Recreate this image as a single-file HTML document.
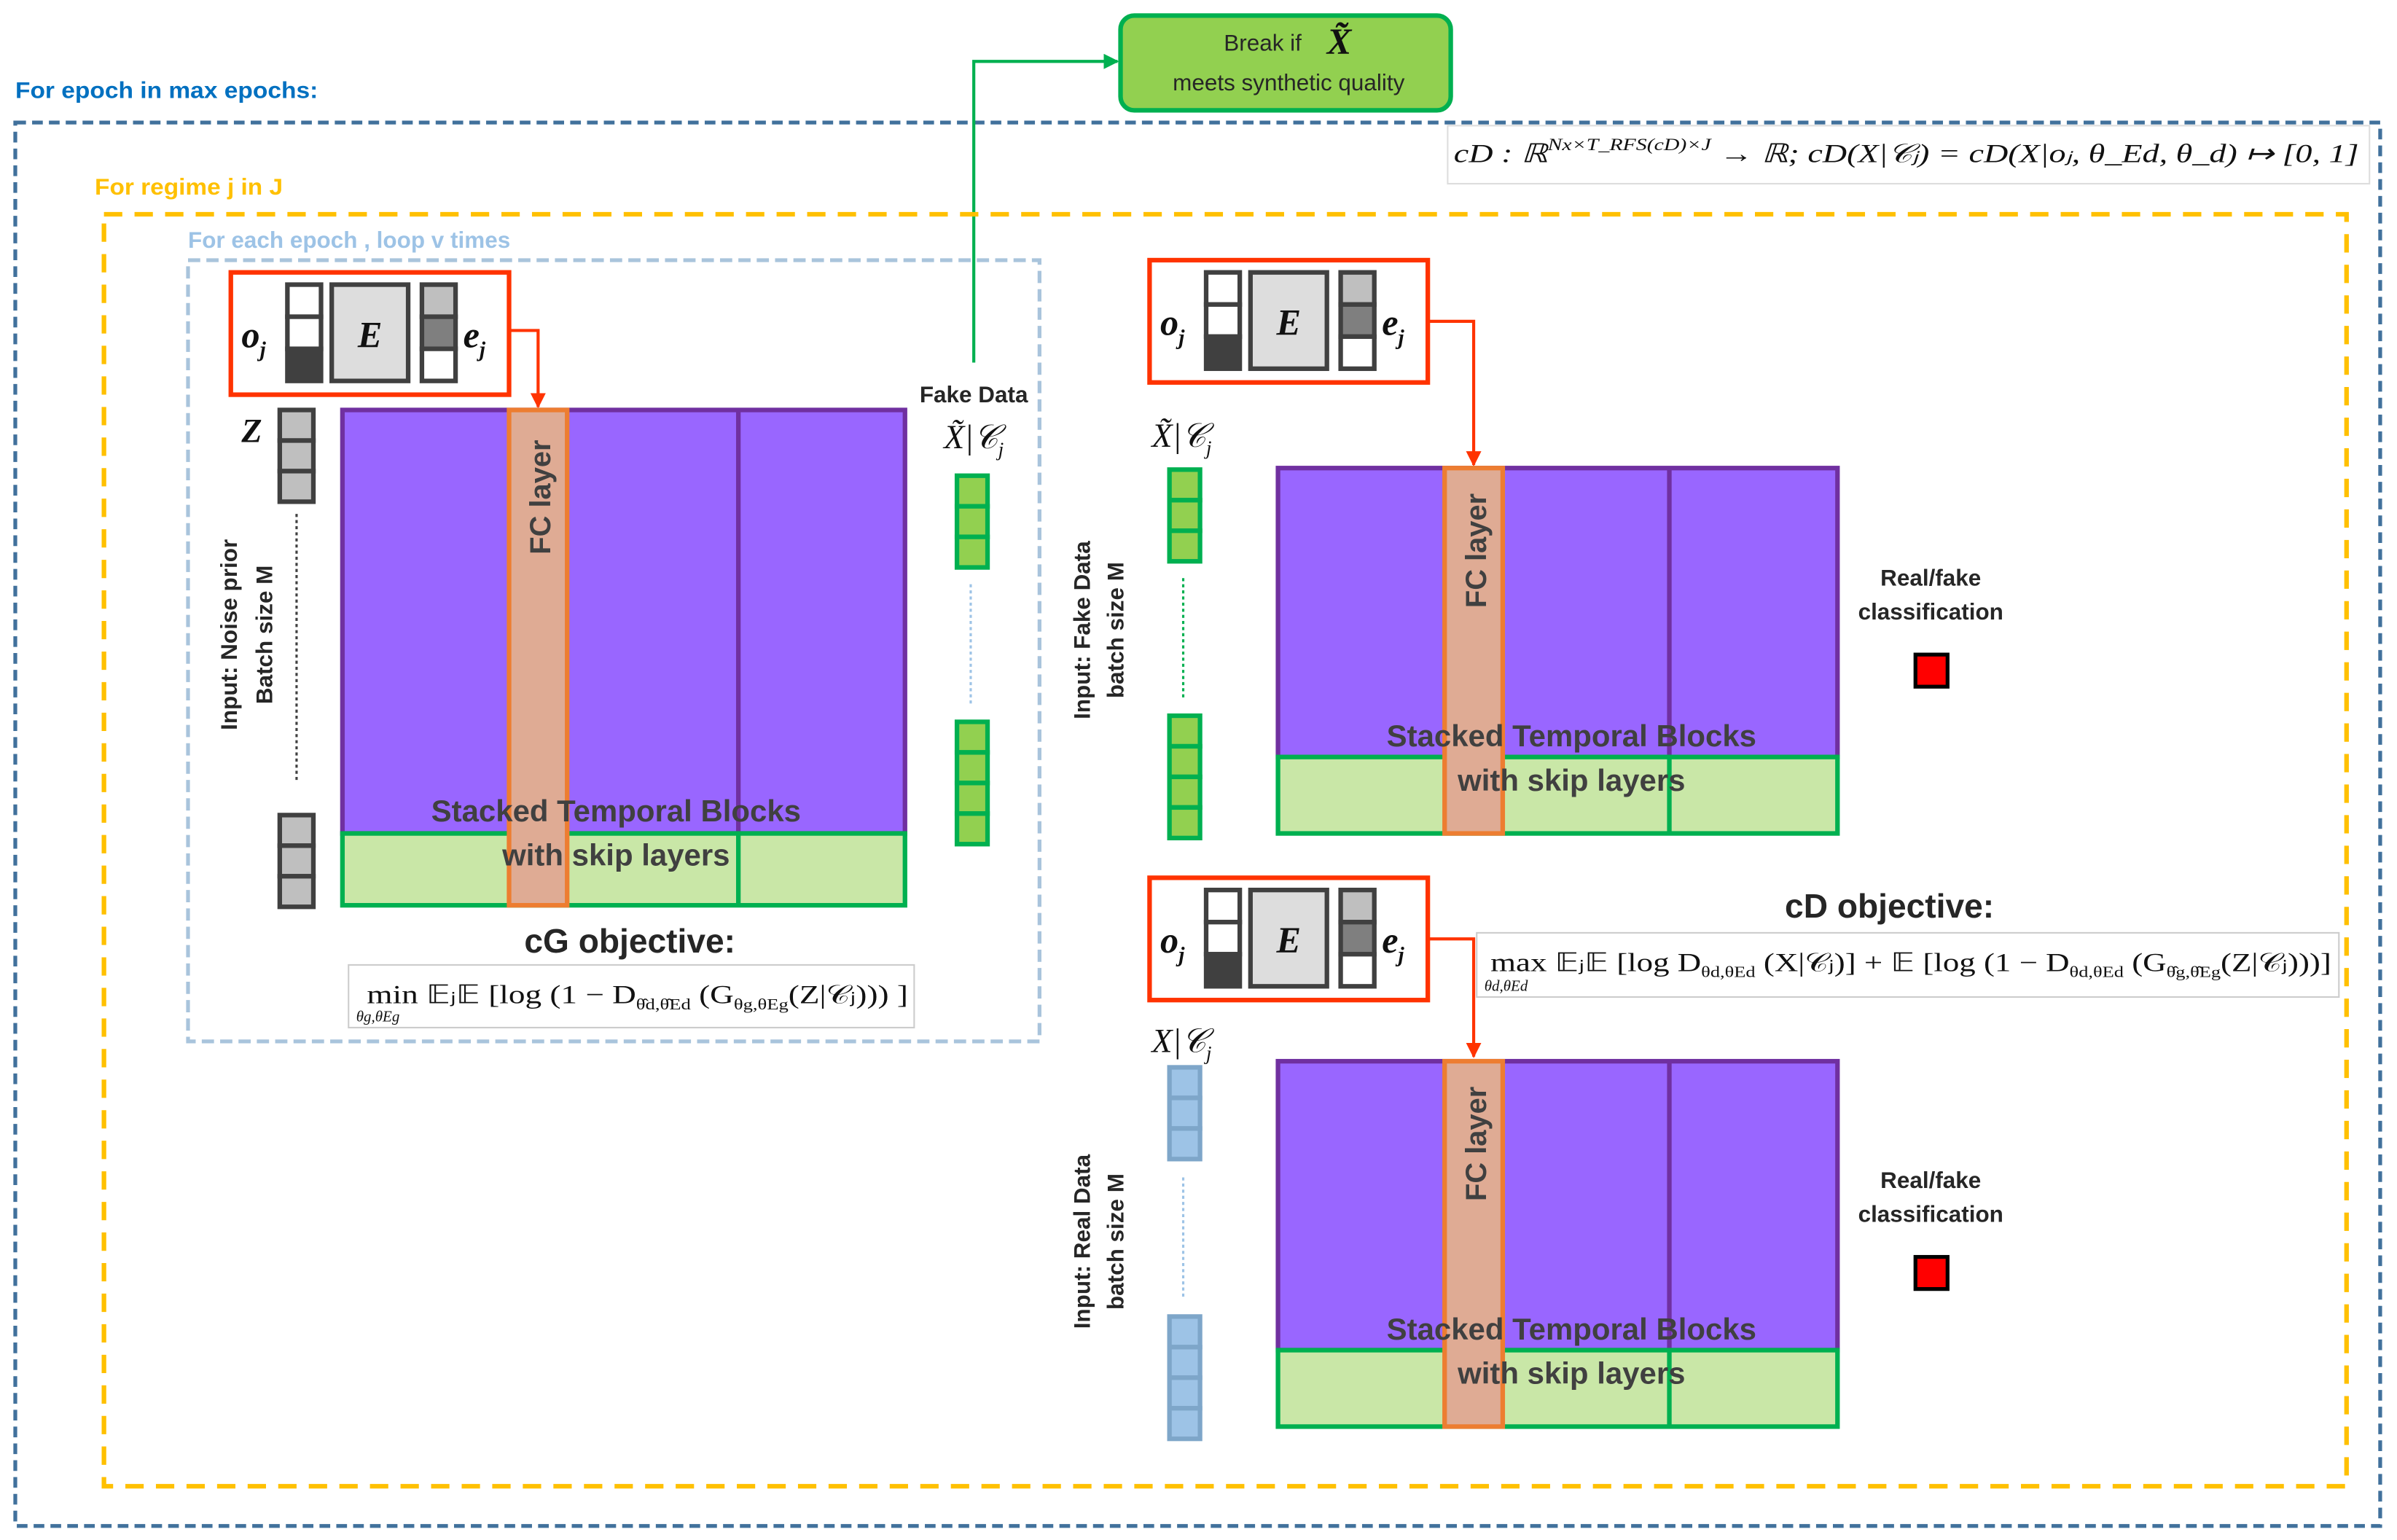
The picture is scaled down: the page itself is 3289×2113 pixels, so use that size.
<!DOCTYPE html>
<html><head><meta charset="utf-8"><style>
html,body{margin:0;padding:0;background:#fff;}
svg{display:block;}
text{font-family:"Liberation Sans",sans-serif;}
.ser{font-family:"Liberation Serif",serif;}
</style></head><body>
<svg width="3289" height="2113" viewBox="0 0 1568 1007" xmlns="http://www.w3.org/2000/svg">
<defs>
<marker id="ag" markerWidth="10" markerHeight="10" refX="9" refY="5" orient="auto" markerUnits="userSpaceOnUse"><path d="M0,0 L10,5 L0,10 z" fill="#00b050"/></marker>
<marker id="ar" markerWidth="10" markerHeight="10" refX="9" refY="5" orient="auto" markerUnits="userSpaceOnUse"><path d="M0,0 L10,5 L0,10 z" fill="#ff3300"/></marker>
</defs>
<rect width="1568" height="1007" fill="#fff"/>

<!-- outer -->
<text x="10" y="64" font-size="15" font-weight="bold" fill="#0070c0" textLength="198" lengthAdjust="spacingAndGlyphs">For epoch in max epochs:</text>
<rect x="10" y="80" width="1547" height="918" fill="none" stroke="#41719c" stroke-width="2.5" stroke-dasharray="7 4"/>

<!-- break box -->
<rect x="733" y="10" width="216" height="62" rx="9" fill="#92d050" stroke="#00b050" stroke-width="3"/>
<text x="826" y="33" font-size="15" text-anchor="middle" fill="#262626">Break if</text>
<text x="876" y="35" font-size="24" font-weight="bold" font-style="italic" class="ser" text-anchor="middle" fill="#111">X̃</text>
<text x="843" y="59" font-size="15" text-anchor="middle" fill="#262626">meets synthetic quality</text>
<polyline points="637,237 637,40 731,40" fill="none" stroke="#00b050" stroke-width="2" marker-end="url(#ag)"/>

<!-- top formula -->
<rect x="947" y="82" width="603" height="38" fill="#fff" stroke="#ddd" stroke-width="1"/>
<text x="951" y="106" font-size="17" class="ser" font-style="italic" fill="#111" textLength="592" lengthAdjust="spacingAndGlyphs">cD : ℝ<tspan font-size="11" dy="-8">Nx×T_RFS(cD)×J</tspan><tspan dy="8"> → ℝ; cD(X|𝒞ⱼ) = cD(X|oⱼ, θ_Ed, θ_d) ↦ [0, 1]</tspan></text>

<!-- regime -->
<text x="62" y="127" font-size="15" font-weight="bold" fill="#ffc000" textLength="123" lengthAdjust="spacingAndGlyphs">For regime j in J</text>
<rect x="68" y="140" width="1467" height="832" fill="none" stroke="#ffc000" stroke-width="3" stroke-dasharray="12 8"/>

<!-- inner loop -->
<text x="123" y="162" font-size="15" font-weight="bold" fill="#9dc3e6">For each epoch , loop v times</text>
<rect x="123" y="170" width="557" height="511" fill="none" stroke="#a9c4dc" stroke-width="2.5" stroke-dasharray="8 4"/>

<!-- ENCODER box generator -->
<g id="enc1">
<rect x="151" y="178" width="182" height="80" fill="#fff" stroke="#ff3300" stroke-width="3"/>
<text x="158" y="227" font-size="24" font-weight="bold" font-style="italic" class="ser" fill="#111">o<tspan font-size="14" dy="6">j</tspan></text>
<rect x="188" y="186" width="22" height="21" fill="#fff" stroke="#404040" stroke-width="3"/>
<rect x="188" y="207" width="22" height="21" fill="#fff" stroke="#404040" stroke-width="3"/>
<rect x="188" y="228" width="22" height="21" fill="#404040" stroke="#404040" stroke-width="3"/>
<rect x="217" y="186" width="50" height="63" fill="#dddddd" stroke="#404040" stroke-width="3"/>
<text x="242" y="227" font-size="24" font-weight="bold" font-style="italic" class="ser" text-anchor="middle" fill="#111">E</text>
<rect x="276" y="186" width="22" height="21" fill="#bfbfbf" stroke="#404040" stroke-width="3"/>
<rect x="276" y="207" width="22" height="21" fill="#7f7f7f" stroke="#404040" stroke-width="3"/>
<rect x="276" y="228" width="22" height="21" fill="#fff" stroke="#404040" stroke-width="3"/>
<text x="303" y="227" font-size="24" font-weight="bold" font-style="italic" class="ser" fill="#111">e<tspan font-size="14" dy="6">j</tspan></text>
</g>
<polyline points="333,216 352,216 352,266" fill="none" stroke="#ff3300" stroke-width="2" marker-end="url(#ar)"/>

<!-- Z -->
<text x="158" y="289" font-size="22" font-weight="bold" font-style="italic" class="ser" fill="#111">Z</text>
<g fill="#bfbfbf" stroke="#404040" stroke-width="3">
<rect x="183" y="268" width="22" height="20"/><rect x="183" y="288" width="22" height="20"/><rect x="183" y="308" width="22" height="20"/>
<rect x="183" y="533" width="22" height="20"/><rect x="183" y="553" width="22" height="20"/><rect x="183" y="573" width="22" height="20"/>
</g>
<line x1="194" y1="336" x2="194" y2="512" stroke="#404040" stroke-width="1.5" stroke-dasharray="2 2"/>
<text transform="translate(155,415) rotate(-90)" font-size="15" font-weight="bold" text-anchor="middle" fill="#262626">Input: Noise prior</text>
<text transform="translate(178,415) rotate(-90)" font-size="15" font-weight="bold" text-anchor="middle" fill="#262626">Batch size M</text>

<!-- Generator block -->
<rect x="224" y="268" width="368" height="277" fill="#9966ff" stroke="#7030a0" stroke-width="3"/>
<line x1="483" y1="268" x2="483" y2="545" stroke="#7030a0" stroke-width="3"/>
<rect x="224" y="545" width="368" height="47" fill="#c9e7a7" stroke="#00b050" stroke-width="3"/>
<line x1="483" y1="545" x2="483" y2="592" stroke="#00b050" stroke-width="3"/>
<rect x="333" y="268" width="38" height="324" fill="#dfab94" stroke="#ed7d31" stroke-width="3"/>
<text transform="translate(360,325) rotate(-90)" font-size="19" font-weight="bold" text-anchor="middle" fill="#404040">FC layer</text>
<text x="403" y="537" font-size="20" font-weight="bold" text-anchor="middle" fill="#404040">Stacked Temporal Blocks</text>
<text x="403" y="566" font-size="20" font-weight="bold" text-anchor="middle" fill="#404040">with skip layers</text>

<!-- fake data -->
<text x="637" y="263" font-size="15" font-weight="bold" text-anchor="middle" fill="#262626">Fake Data</text>
<text x="637" y="293" font-size="22" font-style="italic" class="ser" text-anchor="middle" fill="#111">X̃|𝒞<tspan font-size="13" dy="5">j</tspan></text>
<g fill="#92d050" stroke="#00b050" stroke-width="3">
<rect x="626" y="311" width="20" height="20"/><rect x="626" y="331" width="20" height="20"/><rect x="626" y="351" width="20" height="20"/>
<rect x="626" y="472" width="20" height="20"/><rect x="626" y="492" width="20" height="20"/><rect x="626" y="512" width="20" height="20"/><rect x="626" y="532" width="20" height="20"/>
</g>
<line x1="635" y1="382" x2="635" y2="460" stroke="#9dc3e6" stroke-width="1.5" stroke-dasharray="2 2"/>

<!-- cG objective -->
<text x="412" y="623" font-size="22" font-weight="bold" text-anchor="middle" fill="#262626">cG objective:</text>
<rect x="228" y="631" width="370" height="41" fill="#fff" stroke="#ccc" stroke-width="1"/>
<text x="240" y="656" font-size="17" class="ser" fill="#111" textLength="354" lengthAdjust="spacingAndGlyphs">min 𝔼ⱼ𝔼 [log (1 − D<tspan font-size="10" dy="4">θ̂d,θ̂Ed</tspan><tspan dy="-4"> (G</tspan><tspan font-size="10" dy="4">θg,θEg</tspan><tspan dy="-4">(Z|𝒞ⱼ))) ]</tspan></text>
<text x="233" y="668" font-size="10" class="ser" font-style="italic" fill="#111">θg,θEg</text>

<!-- Disc top -->
<use href="#enc1" transform="translate(601,-8)"/>
<polyline points="935,210 964,210 964,304" fill="none" stroke="#ff3300" stroke-width="2" marker-end="url(#ar)"/>
<text x="773" y="292" font-size="22" font-style="italic" class="ser" text-anchor="middle" fill="#111">X̃|𝒞<tspan font-size="13" dy="5">j</tspan></text>
<g fill="#92d050" stroke="#00b050" stroke-width="3">
<rect x="765" y="307" width="20" height="20"/><rect x="765" y="327" width="20" height="20"/><rect x="765" y="347" width="20" height="20"/>
<rect x="765" y="468" width="20" height="20"/><rect x="765" y="488" width="20" height="20"/><rect x="765" y="508" width="20" height="20"/><rect x="765" y="528" width="20" height="20"/>
</g>
<line x1="774" y1="378" x2="774" y2="458" stroke="#00b050" stroke-width="1.5" stroke-dasharray="2 2"/>
<text transform="translate(713,412) rotate(-90)" font-size="15" font-weight="bold" text-anchor="middle" fill="#262626">Input: Fake Data</text>
<text transform="translate(735,412) rotate(-90)" font-size="15" font-weight="bold" text-anchor="middle" fill="#262626">batch size M</text>
<rect x="836" y="306" width="366" height="189" fill="#9966ff" stroke="#7030a0" stroke-width="3"/>
<line x1="1092" y1="306" x2="1092" y2="495" stroke="#7030a0" stroke-width="3"/>
<rect x="836" y="495" width="366" height="50" fill="#c9e7a7" stroke="#00b050" stroke-width="3"/>
<line x1="1092" y1="495" x2="1092" y2="545" stroke="#00b050" stroke-width="3"/>
<rect x="945" y="306" width="38" height="239" fill="#dfab94" stroke="#ed7d31" stroke-width="3"/>
<text transform="translate(972,360) rotate(-90)" font-size="19" font-weight="bold" text-anchor="middle" fill="#404040">FC layer</text>
<text x="1028" y="488" font-size="20" font-weight="bold" text-anchor="middle" fill="#404040">Stacked Temporal Blocks</text>
<text x="1028" y="517" font-size="20" font-weight="bold" text-anchor="middle" fill="#404040">with skip layers</text>
<text x="1263" y="383" font-size="15" font-weight="bold" text-anchor="middle" fill="#262626">Real/fake</text>
<text x="1263" y="405" font-size="15" font-weight="bold" text-anchor="middle" fill="#262626">classification</text>
<rect x="1253" y="428" width="21" height="21" fill="#ff0000" stroke="#000" stroke-width="2.5"/>

<!-- cD objective -->
<text x="1236" y="600" font-size="22" font-weight="bold" text-anchor="middle" fill="#262626">cD objective:</text>
<rect x="966" y="610" width="564" height="42" fill="#fff" stroke="#ccc" stroke-width="1"/>
<text x="975" y="635" font-size="17" class="ser" fill="#111" textLength="550" lengthAdjust="spacingAndGlyphs">max 𝔼ⱼ𝔼 [log D<tspan font-size="10" dy="4">θd,θEd</tspan><tspan dy="-4"> (X|𝒞ⱼ)] + 𝔼 [log (1 − D</tspan><tspan font-size="10" dy="4">θd,θEd</tspan><tspan dy="-4"> (G</tspan><tspan font-size="10" dy="4">θ̂g,θ̂Eg</tspan><tspan dy="-4">(Z|𝒞ⱼ)))]</tspan></text>
<text x="971" y="648" font-size="10" class="ser" font-style="italic" fill="#111">θd,θEd</text>

<!-- Disc bottom -->
<use href="#enc1" transform="translate(601,396)"/>
<polyline points="935,614 964,614 964,691" fill="none" stroke="#ff3300" stroke-width="2" marker-end="url(#ar)"/>
<text x="773" y="688" font-size="22" font-style="italic" class="ser" text-anchor="middle" fill="#111">X|𝒞<tspan font-size="13" dy="5">j</tspan></text>
<g fill="#9dc3e6" stroke="#7ea6c9" stroke-width="3">
<rect x="765" y="698" width="20" height="20"/><rect x="765" y="718" width="20" height="20"/><rect x="765" y="738" width="20" height="20"/>
<rect x="765" y="861" width="20" height="20"/><rect x="765" y="881" width="20" height="20"/><rect x="765" y="901" width="20" height="20"/><rect x="765" y="921" width="20" height="20"/>
</g>
<line x1="774" y1="770" x2="774" y2="850" stroke="#9dc3e6" stroke-width="1.5" stroke-dasharray="2 2"/>
<text transform="translate(713,812) rotate(-90)" font-size="15" font-weight="bold" text-anchor="middle" fill="#262626">Input: Real Data</text>
<text transform="translate(735,812) rotate(-90)" font-size="15" font-weight="bold" text-anchor="middle" fill="#262626">batch size M</text>
<rect x="836" y="694" width="366" height="189" fill="#9966ff" stroke="#7030a0" stroke-width="3"/>
<line x1="1092" y1="694" x2="1092" y2="883" stroke="#7030a0" stroke-width="3"/>
<rect x="836" y="883" width="366" height="50" fill="#c9e7a7" stroke="#00b050" stroke-width="3"/>
<line x1="1092" y1="883" x2="1092" y2="933" stroke="#00b050" stroke-width="3"/>
<rect x="945" y="694" width="38" height="239" fill="#dfab94" stroke="#ed7d31" stroke-width="3"/>
<text transform="translate(972,748) rotate(-90)" font-size="19" font-weight="bold" text-anchor="middle" fill="#404040">FC layer</text>
<text x="1028" y="876" font-size="20" font-weight="bold" text-anchor="middle" fill="#404040">Stacked Temporal Blocks</text>
<text x="1028" y="905" font-size="20" font-weight="bold" text-anchor="middle" fill="#404040">with skip layers</text>
<text x="1263" y="777" font-size="15" font-weight="bold" text-anchor="middle" fill="#262626">Real/fake</text>
<text x="1263" y="799" font-size="15" font-weight="bold" text-anchor="middle" fill="#262626">classification</text>
<rect x="1253" y="822" width="21" height="21" fill="#ff0000" stroke="#000" stroke-width="2.5"/>
</svg>
</body></html>
